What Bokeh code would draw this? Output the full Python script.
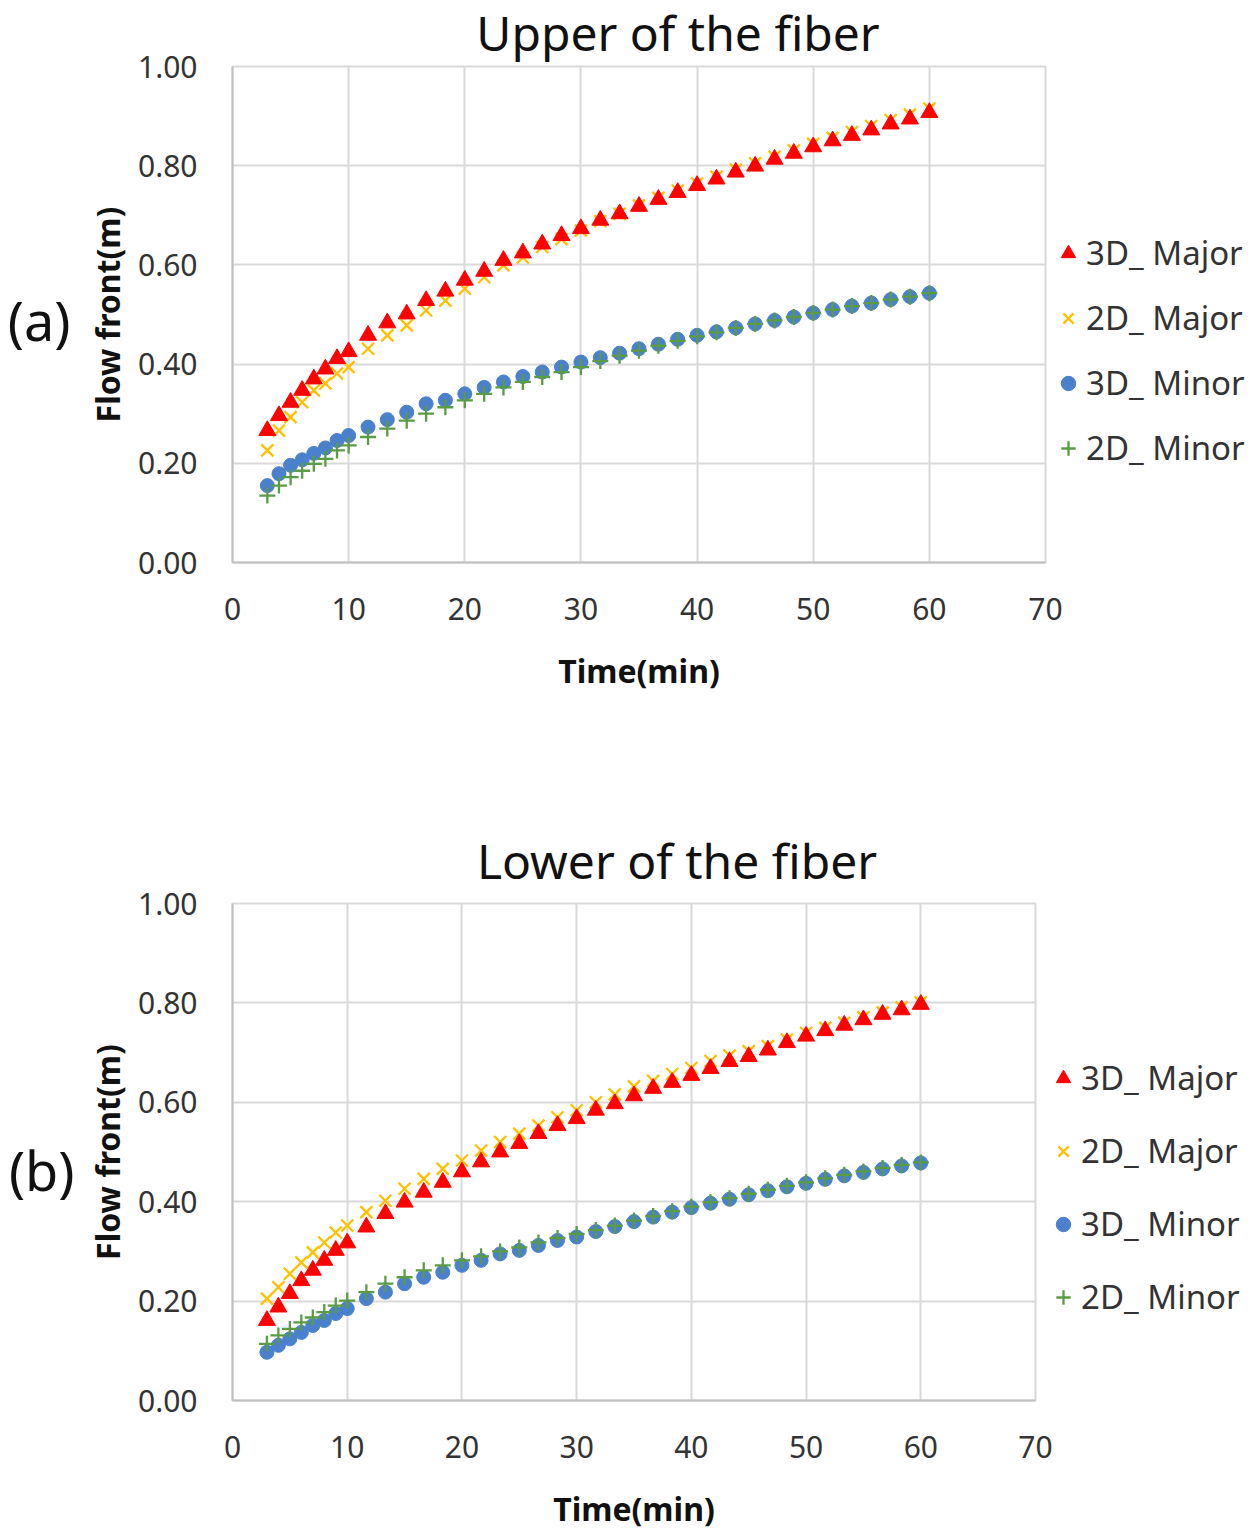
from bokeh.plotting import figure
from bokeh.models import (Legend, LegendItem, FixedTicker, NumeralTickFormatter, Range1d,
                          LinearAxis, CustomJSTickFormatter, Div)
from bokeh.layouts import column
from bokeh.embed import file_html
from bokeh.resources import INLINE

# ---------------- data ----------------
time_min = [3, 4, 5, 6, 7, 8, 9, 10,
            11.67, 13.33, 15, 16.67, 18.33, 20, 21.67, 23.33, 25, 26.67, 28.33, 30,
            31.67, 33.33, 35, 36.67, 38.33, 40, 41.67, 43.33, 45, 46.67, 48.33, 50,
            51.67, 53.33, 55, 56.67, 58.33, 60]

upper_3d_major = [0.266, 0.296, 0.323, 0.347, 0.370, 0.390, 0.411, 0.425,
                  0.458, 0.483, 0.501, 0.528, 0.547, 0.569, 0.587, 0.609, 0.624, 0.642, 0.659, 0.673,
                  0.690, 0.703, 0.718, 0.732, 0.746, 0.760, 0.773, 0.787, 0.799, 0.813, 0.825, 0.838,
                  0.850, 0.861, 0.872, 0.884, 0.894, 0.907]
upper_2d_major = [0.226, 0.266, 0.293, 0.323, 0.347, 0.361, 0.381, 0.394,
                  0.431, 0.458, 0.478, 0.508, 0.528, 0.552, 0.575, 0.599, 0.615, 0.636, 0.652, 0.669,
                  0.688, 0.703, 0.720, 0.735, 0.750, 0.764, 0.778, 0.792, 0.805, 0.818, 0.831, 0.844,
                  0.856, 0.868, 0.880, 0.892, 0.903, 0.915]
upper_3d_minor = [0.155, 0.179, 0.196, 0.207, 0.220, 0.231, 0.246, 0.256,
                  0.273, 0.288, 0.303, 0.320, 0.327, 0.340, 0.353, 0.364, 0.375, 0.384, 0.394, 0.404,
                  0.413, 0.422, 0.431, 0.440, 0.450, 0.458, 0.465, 0.473, 0.481, 0.488, 0.495, 0.503,
                  0.510, 0.517, 0.523, 0.530, 0.536, 0.543]
upper_2d_minor = [0.135, 0.155, 0.172, 0.185, 0.199, 0.209, 0.226, 0.236,
                  0.253, 0.270, 0.286, 0.300, 0.313, 0.327, 0.340, 0.353, 0.364, 0.374, 0.384, 0.394,
                  0.406, 0.417, 0.427, 0.437, 0.447, 0.456, 0.464, 0.473, 0.481, 0.488, 0.495, 0.503,
                  0.510, 0.517, 0.523, 0.530, 0.536, 0.543]

lower_3d_major = [0.161, 0.188, 0.215, 0.241, 0.262, 0.282, 0.302, 0.317,
                  0.349, 0.376, 0.399, 0.419, 0.439, 0.460, 0.480, 0.500, 0.517, 0.537, 0.553, 0.567,
                  0.584, 0.597, 0.613, 0.628, 0.640, 0.654, 0.668, 0.682, 0.692, 0.705, 0.720, 0.733,
                  0.744, 0.755, 0.766, 0.777, 0.786, 0.797]
lower_2d_major = [0.205, 0.228, 0.255, 0.278, 0.298, 0.318, 0.338, 0.352,
                  0.379, 0.402, 0.426, 0.446, 0.466, 0.483, 0.503, 0.520, 0.537, 0.553, 0.570, 0.584,
                  0.600, 0.616, 0.632, 0.643, 0.657, 0.669, 0.683, 0.694, 0.703, 0.713, 0.726, 0.740,
                  0.750, 0.760, 0.771, 0.781, 0.791, 0.801]
lower_3d_minor = [0.097, 0.111, 0.124, 0.137, 0.151, 0.161, 0.175, 0.185,
                  0.205, 0.218, 0.235, 0.248, 0.258, 0.272, 0.282, 0.295, 0.302, 0.312, 0.322, 0.329,
                  0.340, 0.350, 0.360, 0.369, 0.379, 0.388, 0.397, 0.405, 0.414, 0.422, 0.430, 0.437,
                  0.445, 0.452, 0.459, 0.466, 0.472, 0.478]
lower_2d_minor = [0.114, 0.131, 0.144, 0.157, 0.167, 0.178, 0.191, 0.201,
                  0.218, 0.235, 0.248, 0.262, 0.272, 0.282, 0.290, 0.300, 0.308, 0.318, 0.327, 0.335,
                  0.343, 0.352, 0.362, 0.371, 0.381, 0.390, 0.399, 0.407, 0.416, 0.424, 0.432, 0.439,
                  0.447, 0.454, 0.461, 0.468, 0.474, 0.479]

series_names = ["3D_ Major", "2D_ Major", "3D_ Minor", "2D_ Minor"]
x_ticks = [0, 10, 20, 30, 40, 50, 60, 70]
y_ticks = [0.0, 0.2, 0.4, 0.6, 0.8, 1.0]
titles = ["Upper of the fiber", "Lower of the fiber"]

FONT = "Noto Sans"
RED = "#FF0000"
GOLD = "#FFC000"
BLUE = "#4A80CC"
GREEN = "#5A9B45"
TXT = "#333333"


def title_div(text, center_x, height):
    html = ('<div style="position:relative;width:1244px;height:%dpx;overflow:visible;">'
            '<div style="position:absolute;left:%dpx;top:0px;transform:translateX(-50%%);'
            'white-space:nowrap;font-family:\'Noto Sans\';font-size:48px;line-height:normal;'
            'color:#111111;">%s</div></div>') % (height, center_x, text)
    return Div(text=html, width=1244, height=height, margin=0,
               styles={"overflow": "visible", "z-index": "2"})


def make_panel(tag, tag_y, tag_standoff, vals, fl, fw, ft, fh, fb, leg_loc, leg_spacing):
    v3maj, v2maj, v3min, v2min = vals
    p = figure(frame_width=fw, frame_height=fh, output_backend="svg", toolbar_location=None,
               x_range=Range1d(0, 70), y_range=Range1d(0, 1.0),
               min_border_left=fl, min_border_right=10,
               min_border_top=ft, min_border_bottom=fb)
    p.background_fill_color = "white"
    p.border_fill_color = None
    p.outline_line_color = "#D9D9D9"
    p.outline_line_width = 2

    for ax in (p.xaxis, p.yaxis):
        ax.major_tick_line_color = None
        ax.minor_tick_line_color = None
        ax.major_tick_out = 0
        ax.major_tick_in = 0
        ax.axis_line_color = "#BFBFBF"
        ax.axis_line_width = 2
        ax.major_label_text_font = FONT
        ax.major_label_text_font_size = "30px"
        ax.major_label_text_color = TXT
        ax.axis_label_text_font = FONT
        ax.axis_label_text_font_size = "32px"
        ax.axis_label_text_font_style = "bold"
        ax.axis_label_text_color = "#111111"
    p.xaxis.ticker = FixedTicker(ticks=x_ticks)
    p.yaxis.ticker = FixedTicker(ticks=y_ticks)
    p.yaxis.formatter = NumeralTickFormatter(format="0.00")
    p.xaxis.major_label_standoff = 35
    p.yaxis.major_label_standoff = 35
    p.xaxis.axis_label = "Time(min)"
    p.yaxis.axis_label = "Flow front(m)"
    p.xaxis.axis_label_standoff = 26
    p.yaxis.axis_label_standoff = 6

    # panel tag "(a)" / "(b)" as an outer left axis label
    tag_axis = LinearAxis(ticker=FixedTicker(ticks=[tag_y]),
                          formatter=CustomJSTickFormatter(code="return '%s';" % tag))
    tag_axis.axis_line_color = None
    tag_axis.major_tick_line_color = None
    tag_axis.minor_tick_line_color = None
    tag_axis.major_tick_out = 0
    tag_axis.major_tick_in = 0
    tag_axis.major_label_standoff = tag_standoff
    tag_axis.major_label_text_font = FONT
    tag_axis.major_label_text_font_size = "54px"
    tag_axis.major_label_text_color = "#111111"
    p.add_layout(tag_axis, "left")

    p.xgrid.ticker = FixedTicker(ticks=x_ticks)
    p.ygrid.ticker = FixedTicker(ticks=y_ticks)
    p.xgrid.grid_line_color = "#D9D9D9"
    p.ygrid.grid_line_color = "#D9D9D9"
    p.xgrid.grid_line_width = 2
    p.ygrid.grid_line_width = 2

    r2maj = p.scatter(time_min, v2maj, marker="x", size=17, line_color=GOLD, line_width=2.3)
    r3maj = p.scatter(time_min, v3maj, marker="triangle", size=17, fill_color=RED, line_color=RED)
    r3min = p.scatter(time_min, v3min, marker="circle", size=14, fill_color=BLUE, line_color=BLUE)
    r2min = p.scatter(time_min, v2min, marker="cross", size=16, line_color=GREEN, line_width=2.3)

    legend = Legend(items=[LegendItem(label=series_names[0], renderers=[r3maj]),
                           LegendItem(label=series_names[1], renderers=[r2maj]),
                           LegendItem(label=series_names[2], renderers=[r3min]),
                           LegendItem(label=series_names[3], renderers=[r2min])],
                    location=leg_loc, orientation="vertical")
    legend.background_fill_alpha = 0
    legend.border_line_color = None
    legend.padding = 0
    legend.margin = 6
    legend.spacing = leg_spacing
    legend.glyph_width = 36
    legend.glyph_height = 40
    legend.label_height = 40
    legend.label_standoff = 0
    legend.label_text_font = FONT
    legend.label_text_font_size = "33px"
    legend.label_text_color = TXT
    p.add_layout(legend, "right")
    return p


d1 = title_div(titles[0], 678, 44)
p1 = make_panel("(a)", 0.488, 12,
                (upper_3d_major, upper_2d_major, upper_3d_minor, upper_2d_minor),
                fl=232, fw=813, ft=22, fh=496, fb=266,
                leg_loc=(5, 92), leg_spacing=20)

d2 = title_div(titles[1], 677, 44)
p2 = make_panel("(b)", 0.463, 8,
                (lower_3d_major, lower_2d_major, lower_3d_minor, lower_2d_minor),
                fl=229, fw=803, ft=31, fh=497, fb=124,
                leg_loc=(10, 81), leg_spacing=28)

layout = column(d1, p1, d2, p2, spacing=0)
open("out.html", "w").write(file_html(layout, INLINE))
